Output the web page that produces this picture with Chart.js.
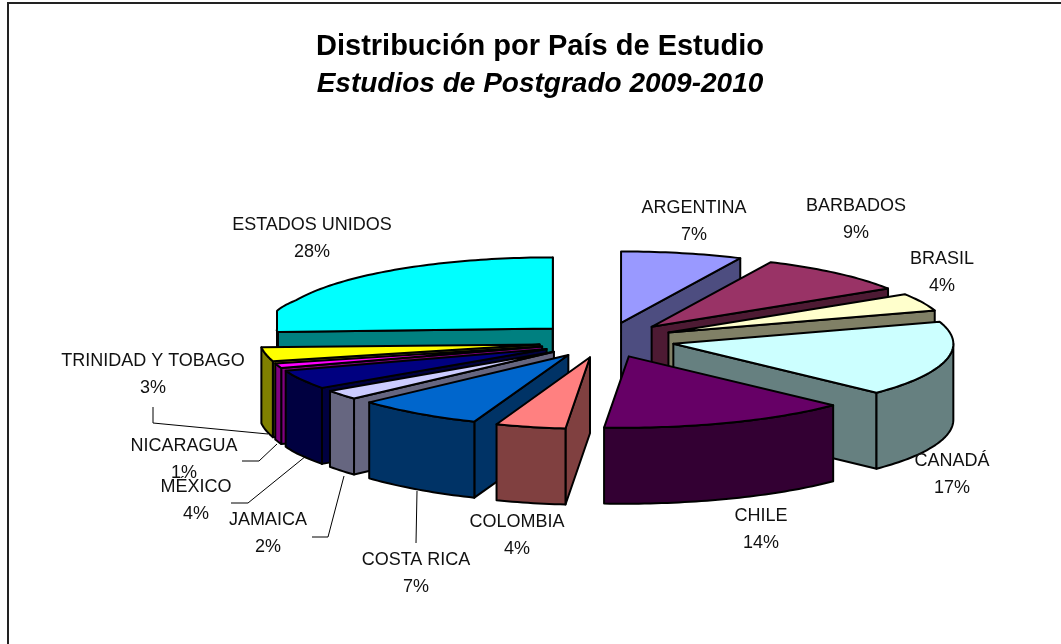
<!DOCTYPE html>
<html>
<head>
<meta charset="utf-8">
<title>Distribución por País de Estudio</title>
<script src="https://cdn.jsdelivr.net/npm/chart.js@4"></script>
<style>
  html, body { margin: 0; padding: 0; background: #fff; }
  #wrap { width: 1061px; height: 644px; }
</style>
</head>
<body>
<div id="wrap"><canvas id="pie" width="1061" height="644"></canvas></div>
<script>
/* DATOS */
const paises = ["ARGENTINA","BARBADOS","BRASIL","CANADÁ","CHILE","COLOMBIA","COSTA RICA","JAMAICA","MÉXICO","NICARAGUA","TRINIDAD Y TOBAGO","ESTADOS UNIDOS"];
const porcentajes = [7,9,4,17,14,4,7,2,4,1,3,28];
const colores = ["#9999FF","#993366","#FFFFCC","#CCFFFF","#660066","#FF8080","#0066CC","#CCCCFF","#000080","#FF00FF","#FFFF00","#00FFFF"];
const costados = ["#4D4D80","#4D1A33","#808066","#668080","#330033","#804040","#003366","#666680","#000040","#800080","#808000","#008080"];

/* POSICION DE ETIQUETAS (centro x, y de la primera linea) */
const etiquetasXY = [[694,208],[856,206],[942,259],[952,461],[761,516],[517,522],[416,560],[268,520],[196,487],[184,446],[153,361],[312,225]];
const lineasGuia = [
  [[153,407],[153,423],[268,434]],
  [[242,461],[259,461],[277,444]],
  [[231,503],[248,503],[306,456]],
  [[312,537],[328,537],[344,476]],
  [[416,543],[417,491]]
];

/* VISTA 3D */
const pieX = 606, pieY = 340, inclinacion = 0.255, grosor = 76;
const fuente = "'Liberation Sans', Arial, sans-serif";
const clamp = (v, a, b) => Math.min(b, Math.max(a, v));

/* pequeña correccion de perspectiva: adelante se corre a la izquierda, la punta izquierda sube */
function proyectar(x, y) {
  const dx = pieX - x;
  const corrX = 10 * clamp((y - 345) / 40, 0, 1) * (dx < 0 ? clamp(1 + dx / 300, 0, 1) : 1);
  const corrY = dx > 0 ? 10 * Math.pow(dx / 326, 2) * clamp((y - 300) / 30, 0, 1) : 0;
  const nx = y < 340 ? Math.max(x - corrX, 277) : x - corrX;
  return [nx, y - corrY];
}

/* dibuja una rebanada a partir del arco que calculo Chart.js */
function dibujarRebanada(ctx, arc, i) {
  const R = arc.outerRadius, a0 = arc.startAngle, a1 = arc.endAngle, mid = (a0 + a1) / 2;
  const off = arc.options.offset;
  const cx = pieX + Math.cos(mid) * off;
  const cy = pieY + Math.sin(mid) * off * inclinacion;
  const borde = a => proyectar(cx + R * Math.cos(a), cy + R * inclinacion * Math.sin(a));
  const punta = proyectar(cx, cy);

  const arco = (desde, hasta, dy) => {
    const pasos = Math.max(2, Math.ceil(Math.abs(hasta - desde) / 0.02));
    for (let k = 0; k <= pasos; k++) {
      const p = borde(desde + (hasta - desde) * k / pasos);
      ctx.lineTo(p[0], p[1] + dy);
    }
  };

  ctx.lineWidth = 2;
  ctx.lineJoin = "round";
  ctx.strokeStyle = "#000";
  ctx.fillStyle = costados[i];

  const cara = a => {
    const p = borde(a);
    ctx.beginPath();
    ctx.moveTo(punta[0], punta[1]);
    ctx.lineTo(p[0], p[1]);
    ctx.lineTo(p[0], p[1] + grosor);
    ctx.lineTo(punta[0], punta[1] + grosor);
    ctx.closePath();
    ctx.fill();
    ctx.stroke();
  };
  // caras de corte que miran al frente
  if (Math.cos(a0) < 0) cara(a0);
  if (Math.cos(a1) > 0) cara(a1);

  // pared exterior, solo la mitad de adelante
  const w0 = Math.max(a0, 0), w1 = Math.min(a1, Math.PI);
  if (w1 > w0) {
    ctx.beginPath();
    arco(w0, w1, 0);
    arco(w1, w0, grosor);
    ctx.closePath();
    ctx.fill();
    ctx.stroke();
  }

  // cara superior
  ctx.fillStyle = colores[i];
  ctx.beginPath();
  ctx.moveTo(punta[0], punta[1]);
  arco(a0, a1, 0);
  ctx.closePath();
  ctx.fill();
  ctx.stroke();
}

const pie3d = {
  id: "pie3d",
  beforeDraw(chart) {
    const ctx = chart.ctx;
    ctx.save();
    ctx.strokeStyle = "#222";
    ctx.lineWidth = 2;
    ctx.beginPath();
    ctx.moveTo(8, 644);
    ctx.lineTo(8, 3);
    ctx.lineTo(1061, 3);
    ctx.stroke();
    ctx.restore();
  },
  beforeDatasetsDraw(chart) {
    const ctx = chart.ctx;
    const arcs = chart.getDatasetMeta(0).data;
    const orden = arcs.map((a, i) => i).sort((p, q) =>
      Math.sin((arcs[p].startAngle + arcs[p].endAngle) / 2) - Math.sin((arcs[q].startAngle + arcs[q].endAngle) / 2));
    ctx.save();
    orden.forEach(i => dibujarRebanada(ctx, arcs[i], i));
    ctx.restore();
    return false;
  },
  afterDraw(chart) {
    const ctx = chart.ctx;
    ctx.save();
    ctx.strokeStyle = "#000";
    ctx.lineWidth = 1;
    lineasGuia.forEach(l => {
      ctx.beginPath();
      l.forEach((p, k) => k ? ctx.lineTo(p[0], p[1]) : ctx.moveTo(p[0], p[1]));
      ctx.stroke();
    });
    ctx.fillStyle = "#111";
    ctx.font = "18px " + fuente;
    ctx.textAlign = "center";
    ctx.textBaseline = "middle";
    paises.forEach((p, i) => {
      const [x, y] = etiquetasXY[i];
      ctx.fillText(p, x, y);
      ctx.fillText(porcentajes[i] + "%", x, y + 27);
    });
    ctx.restore();
  }
};

new Chart(document.getElementById("pie"), {
  type: "pie",
  data: {
    labels: paises,
    datasets: [{ data: porcentajes, backgroundColor: colores, offset: 69, borderWidth: 0 }]
  },
  options: {
    responsive: false,
    animation: false,
    radius: 280,
    layout: { padding: { left: 19 } },
    plugins: {
      legend: { display: false },
      tooltip: { enabled: false },
      title: {
        display: true,
        text: "Distribución por País de Estudio",
        color: "#000",
        font: { family: fuente, size: 29, weight: "bold" },
        padding: { top: 30, bottom: 3 }
      },
      subtitle: {
        display: true,
        text: "Estudios de Postgrado 2009-2010",
        color: "#000",
        font: { family: fuente, size: 28, weight: "bold", style: "italic" },
        padding: { top: 0, bottom: 0 }
      }
    }
  },
  plugins: [pie3d]
});
</script>
</body>
</html>
